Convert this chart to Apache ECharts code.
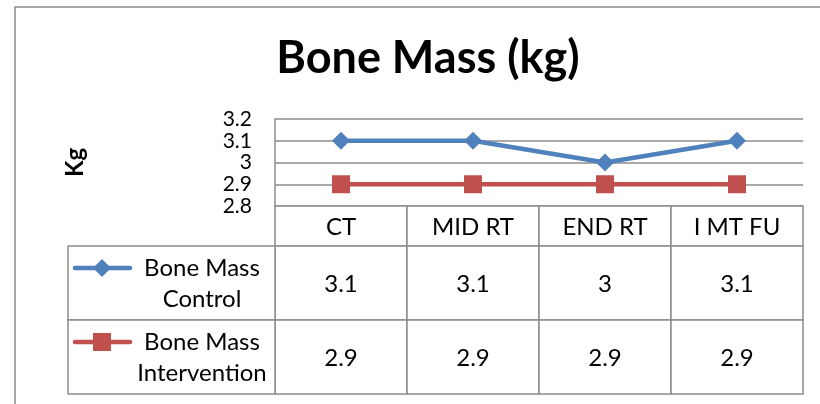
<!DOCTYPE html>
<html>
<head>
<meta charset="utf-8">
<script src="https://cdn.jsdelivr.net/npm/echarts@6/dist/echarts.min.js"></script>
<style>
html, body { margin: 0; padding: 0; background: #fff; }
#chart { width: 820px; height: 404px; }
</style>
</head>
<body>
<div id="chart"></div>
<script>
// Bone Mass (kg): line chart with an Excel-style data table underneath
const categories = ['CT', 'MID RT', 'END RT', 'I MT FU'];
const seriesNames = ['Bone Mass Control', 'Bone Mass Intervention'];
const legendLines = [['Bone Mass', 'Control'], ['Bone Mass', 'Intervention']];
const control = [3.1, 3.1, 3.0, 3.1];
const intervention = [2.9, 2.9, 2.9, 2.9];
const yTicks = [2.8, 2.9, 3.0, 3.1, 3.2];

const colors = ['#4F81BD', '#C0504D'];
const border = '#8c8c8c';
const FONT = 'Lato';
const HDR_H = 40, ROW_H = 74, LEG_W = 207;

const chart = echarts.init(document.getElementById('chart'), null, { renderer: 'canvas' });

function fmt(v) { return String(+(+v).toFixed(1)); }

// draws the table cells for one category column (+ legend column for the first one)
function renderTable(params, api) {
  const i = api.value(0);
  const cx = api.coord([i, 0])[0];
  const w = api.size([1, 0])[0];
  const cs = params.coordSys;
  const tops = [cs.y, cs.y + HDR_H, cs.y + HDR_H + ROW_H];
  const hs = [HDR_H, ROW_H, ROW_H];
  const texts = [categories[i], fmt(api.value(1)), fmt(api.value(2))];
  const kids = [];
  for (let r = 0; r < 3; r++) {
    kids.push({
      type: 'rect',
      shape: { x: cx - w / 2, y: tops[r], width: w, height: hs[r] },
      style: { fill: '#fff', stroke: border, lineWidth: 1.5 }
    });
    kids.push({
      type: 'text',
      style: {
        text: texts[r], x: cx, y: tops[r] + hs[r] / 2 + 1,
        align: 'center', verticalAlign: 'middle',
        fontFamily: FONT, fontSize: 24, fill: '#000'
      }
    });
  }
  if (i === 0) {
    const lx = cs.x - LEG_W;
    for (let s = 0; s < 2; s++) {
      const top = tops[s + 1];
      const iy = top + 22;
      kids.push({
        type: 'rect',
        shape: { x: lx, y: top, width: LEG_W, height: ROW_H },
        style: { fill: '#fff', stroke: border, lineWidth: 1.5 }
      });
      kids.push({
        type: 'line',
        shape: { x1: lx + 7, y1: iy, x2: lx + 62, y2: iy },
        style: { stroke: colors[s], lineWidth: 4.5, lineCap: 'round' }
      });
      if (s === 0) {
        kids.push({
          type: 'polygon',
          shape: { points: [[lx + 34, iy - 9], [lx + 43, iy], [lx + 34, iy + 9], [lx + 25, iy]] },
          style: { fill: colors[s] }
        });
      } else {
        kids.push({
          type: 'rect',
          shape: { x: lx + 25, y: iy - 9, width: 18, height: 18 },
          style: { fill: colors[s] }
        });
      }
      kids.push({
        type: 'text',
        style: {
          text: legendLines[s].join('\n'), x: lx + 134, y: top + ROW_H / 2 + 1,
          align: 'center', verticalAlign: 'middle', lineHeight: 31,
          fontFamily: FONT, fontSize: 24, fill: '#000'
        }
      });
    }
  }
  return { type: 'group', children: kids };
}

chart.setOption({
  animation: false,
  backgroundColor: '#fff',
  graphic: [
    {
      type: 'rect', z: -10, silent: true,
      shape: { x: 15, y: 7, width: 900, height: 500 },
      style: { fill: 'none', stroke: border, lineWidth: 1.5 }
    },
    {
      type: 'text', x: 428, y: 58,
      style: {
        text: 'Bone Mass (kg)', align: 'center', verticalAlign: 'middle',
        fontFamily: FONT, fontWeight: 'bold', fontSize: 45, fill: '#000'
      }
    }
  ],
  grid: [
    { left: 275, right: 17, top: 119, height: 87 },
    { left: 275, right: 17, top: 206, height: HDR_H + 2 * ROW_H }
  ],
  xAxis: [
    {
      type: 'category', gridIndex: 0, data: categories, boundaryGap: true,
      axisLine: { show: false }, axisTick: { show: false }, axisLabel: { show: false }
    },
    {
      type: 'category', gridIndex: 1, data: categories, boundaryGap: true, show: false
    }
  ],
  yAxis: [
    {
      type: 'value', gridIndex: 0,
      min: yTicks[0], max: yTicks[yTicks.length - 1], interval: 0.1,
      name: 'Kg', nameLocation: 'middle', nameGap: 188, nameRotate: 90,
      nameTextStyle: { fontFamily: FONT, fontWeight: 'bold', fontSize: 24, color: '#000' },
      axisLine: { show: true, lineStyle: { color: border, width: 1.5 } },
      axisTick: { show: false },
      axisLabel: {
        fontFamily: FONT, fontSize: 21, lineHeight: 20, color: '#000', margin: 23,
        formatter: fmt, showMinLabel: true, showMaxLabel: true, hideOverlap: false
      },
      splitLine: { lineStyle: { color: border, width: 1.5 } }
    },
    { type: 'value', gridIndex: 1, min: 0, max: 4, show: false }
  ],
  series: [
    {
      name: seriesNames[0], type: 'line', xAxisIndex: 0, yAxisIndex: 0,
      data: control, symbol: 'diamond', symbolSize: 18,
      lineStyle: { color: colors[0], width: 4.5 },
      itemStyle: { color: colors[0] }
    },
    {
      name: seriesNames[1], type: 'line', xAxisIndex: 0, yAxisIndex: 0,
      data: intervention, symbol: 'rect', symbolSize: 18,
      lineStyle: { color: colors[1], width: 4.5 },
      itemStyle: { color: colors[1] }
    },
    {
      type: 'custom', xAxisIndex: 1, yAxisIndex: 1, z: 1, silent: true,
      renderItem: renderTable,
      data: categories.map((c, i) => [i, control[i], intervention[i]])
    }
  ]
});
</script>
</body>
</html>
